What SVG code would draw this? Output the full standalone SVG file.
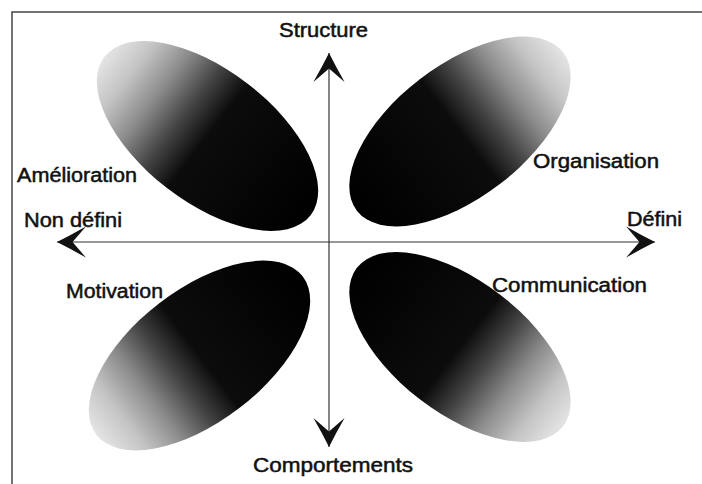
<svg xmlns="http://www.w3.org/2000/svg" width="702" height="484" viewBox="0 0 702 484">
  <style>
    .lbl { font-family: "Liberation Sans", Arial, sans-serif; font-size: 20px; fill: #111; stroke: #111; stroke-width: 0.5; }
    .axis { stroke: #333; stroke-width: 1.2; fill: none; }
    .frame { stroke: #444; stroke-width: 1.5; fill: none; }
    .blob { fill: url(#shade); }
  </style>
  <defs>
    <linearGradient id="shade" x1="0" y1="0" x2="1" y2="0">
      <stop offset="0" stop-color="#e4e4e4"/>
      <stop offset="0.12" stop-color="#c4c4c4"/>
      <stop offset="0.25" stop-color="#8c8c8c"/>
      <stop offset="0.38" stop-color="#444"/>
      <stop offset="0.5" stop-color="#0c0c0c"/>
      <stop offset="1" stop-color="#000"/>
    </linearGradient>
    <marker id="head" markerUnits="userSpaceOnUse" markerWidth="40" markerHeight="40" viewBox="-30 -18 32 36" refX="0" refY="0" orient="auto-start-reverse" overflow="visible">
      <path d="M0,0 Q-12,-6 -26,-14 L-14,0 L-26,14 Q-12,6 0,0 Z" fill="#111"/>
    </marker>
  </defs>

  <path class="frame" d="M12,484 V12 H702"/>

  <g id="amelioration">
    <ellipse class="blob" cx="0" cy="0" rx="130" ry="66" transform="translate(207.5,136) rotate(37.5)"/>
    <text class="lbl" x="17" y="182" textLength="120" lengthAdjust="spacingAndGlyphs">Amélioration</text>
  </g>
  <g id="organisation">
    <ellipse class="blob" cx="0" cy="0" rx="130" ry="66" transform="translate(460,131.5) rotate(142.5)"/>
    <text class="lbl" x="533" y="168" textLength="126" lengthAdjust="spacingAndGlyphs">Organisation</text>
  </g>
  <g id="motivation">
    <ellipse class="blob" cx="0" cy="0" rx="130" ry="66" transform="translate(199.5,355.5) rotate(-37.5)"/>
    <text class="lbl" x="66" y="298" textLength="97" lengthAdjust="spacingAndGlyphs">Motivation</text>
  </g>
  <g id="communication">
    <ellipse class="blob" cx="0" cy="0" rx="130" ry="66" transform="translate(460,347) rotate(217.5)"/>
    <text class="lbl" x="492" y="292" textLength="155" lengthAdjust="spacingAndGlyphs">Communication</text>
  </g>

  <g id="connectors">
    <line class="axis" x1="329" y1="53" x2="329" y2="447" marker-start="url(#head)" marker-end="url(#head)"/>
    <line class="axis" x1="57" y1="242" x2="655" y2="242" marker-start="url(#head)" marker-end="url(#head)"/>
  </g>

  <g id="structure">
    <text class="lbl" x="279" y="37" textLength="89" lengthAdjust="spacingAndGlyphs">Structure</text>
  </g>
  <g id="comportements">
    <text class="lbl" x="253" y="472" textLength="160" lengthAdjust="spacingAndGlyphs">Comportements</text>
  </g>
  <g id="non-defini">
    <text class="lbl" x="24" y="227" textLength="98" lengthAdjust="spacingAndGlyphs">Non défini</text>
  </g>
  <g id="defini">
    <text class="lbl" x="627" y="226" textLength="55" lengthAdjust="spacingAndGlyphs">Défini</text>
  </g>
</svg>
